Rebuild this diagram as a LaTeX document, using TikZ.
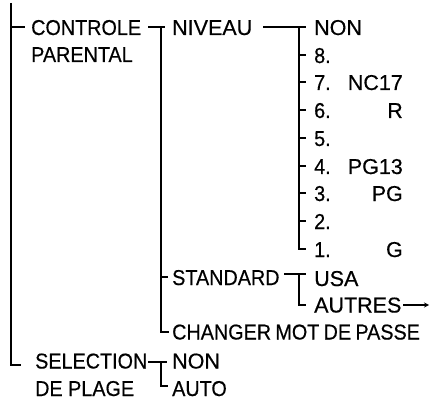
\documentclass[tikz,border=0pt]{standalone}
\usepackage{fontspec}
\setmainfont[FakeStretch=0.92,FakeBold=0.45]{Liberation Sans}
\newfontfamily\widefont[FakeStretch=1.0,FakeBold=0.45]{Liberation Sans}
\begin{document}
\begin{tikzpicture}[x=1pt,y=-1pt,
  txt/.style={anchor=base west,inner sep=0pt,font=\fontsize{21.5}{26}\selectfont},
  wtxt/.style={anchor=base west,inner sep=0pt,font=\widefont\fontsize{21.5}{26}\selectfont},
  rtxt/.style={anchor=base east,inner sep=0pt,font=\widefont\fontsize{21.5}{26}\selectfont},
  ln/.style={line width=1.2pt,line cap=butt}]
\useasboundingbox (0,0) rectangle (431,401);
% texts
\node[txt] (controle) at (31,35) {CONTROLE};
\node[txt] (parental) at (31,62) {PARENTAL};
\node[wtxt] (niveau) at (172,35) {NIVEAU};
\node[wtxt] (non1) at (314,35) {NON};
\node[txt] (n8) at (314,63) {8.};
\node[txt] (n7) at (314,90) {7.};
\node[txt] (n6) at (314,118) {6.};
\node[txt] (n5) at (314,146) {5.};
\node[txt] (n4) at (314,174) {4.};
\node[txt] (n3) at (314,201) {3.};
\node[txt] (n2) at (314,229) {2.};
\node[txt] (n1) at (314,257) {1.};
\node[rtxt] (nc17) at (403,90) {NC17};
\node[rtxt] (r) at (403,118) {R};
\node[rtxt] (pg13) at (403,174) {PG13};
\node[rtxt] (pg) at (403,201) {PG};
\node[rtxt] (g) at (403,257) {G};
\node[txt] (standard) at (172,285) {STANDARD};
\node[wtxt] (usa) at (314,286) {USA};
\node[wtxt] (autres) at (314,312.5) {AUTRES};
\node[txt] (changer) at (172,339.5) {CHANGER\hspace{4.3pt}MOT\hspace{4.3pt}DE\hspace{4.3pt}PASSE};
\node[txt] (selection) at (35,368.5) {SELECTION};
\node[txt] (deplage) at (35,396) {DE PLAGE};
\node[wtxt] (non2) at (172,368.5) {NON};
\node[txt] (auto) at (172,396) {AUTO};
% coordinates
\coordinate (ltop) at (11,3);
\coordinate (lc) at (11,27);
\coordinate (lbot) at (11,365);
\coordinate (lbote) at (21,365);
\coordinate (lce) at (25,27);
\coordinate (a1) at (148,27);
\coordinate (a2) at (165,27);
\coordinate (av) at (161,27);
\coordinate (ab) at (161,332);
\coordinate (abe) at (169,332);
\coordinate (as) at (161,277);
\coordinate (ase) at (168,277);
\coordinate (b1) at (263,27);
\coordinate (b2) at (306,27);
\coordinate (bv) at (299,27);
\coordinate (bb) at (299,249);
\coordinate (bbe) at (306,249);
\coordinate (c1) at (284,274);
\coordinate (c2) at (306,274);
\coordinate (cv) at (299,274);
\coordinate (cb) at (299,305);
\coordinate (cbe) at (306,305);
\coordinate (arrs) at (403,305);
\coordinate (arre) at (429,305);
\coordinate (d1) at (148,362);
\coordinate (d2) at (167,362);
\coordinate (dv) at (161,362);
\coordinate (db) at (161,386);
\coordinate (dbe) at (168,386);
% lines
\draw[ln] (ltop) -- (lbot) -- (lbote);
\draw[ln] (lc) -- (lce);
\draw[ln] (a1) -- (a2);
\draw[ln] (av) -- (ab) -- (abe);
\draw[ln] (as) -- (ase);
\draw[ln] (b1) -- (b2);
\draw[ln] (bv) -- (bb) -- (bbe);
\foreach \yy in {55,82,110,138,166,193,221} \draw[ln] (299,\yy) -- (306,\yy);
\draw[ln] (c1) -- (c2);
\draw[ln] (cv) -- (cb) -- (cbe);
\draw[ln,-stealth] (arrs) -- (arre);
\draw[ln] (d1) -- (d2);
\draw[ln] (dv) -- (db) -- (dbe);
\end{tikzpicture}
\end{document}
